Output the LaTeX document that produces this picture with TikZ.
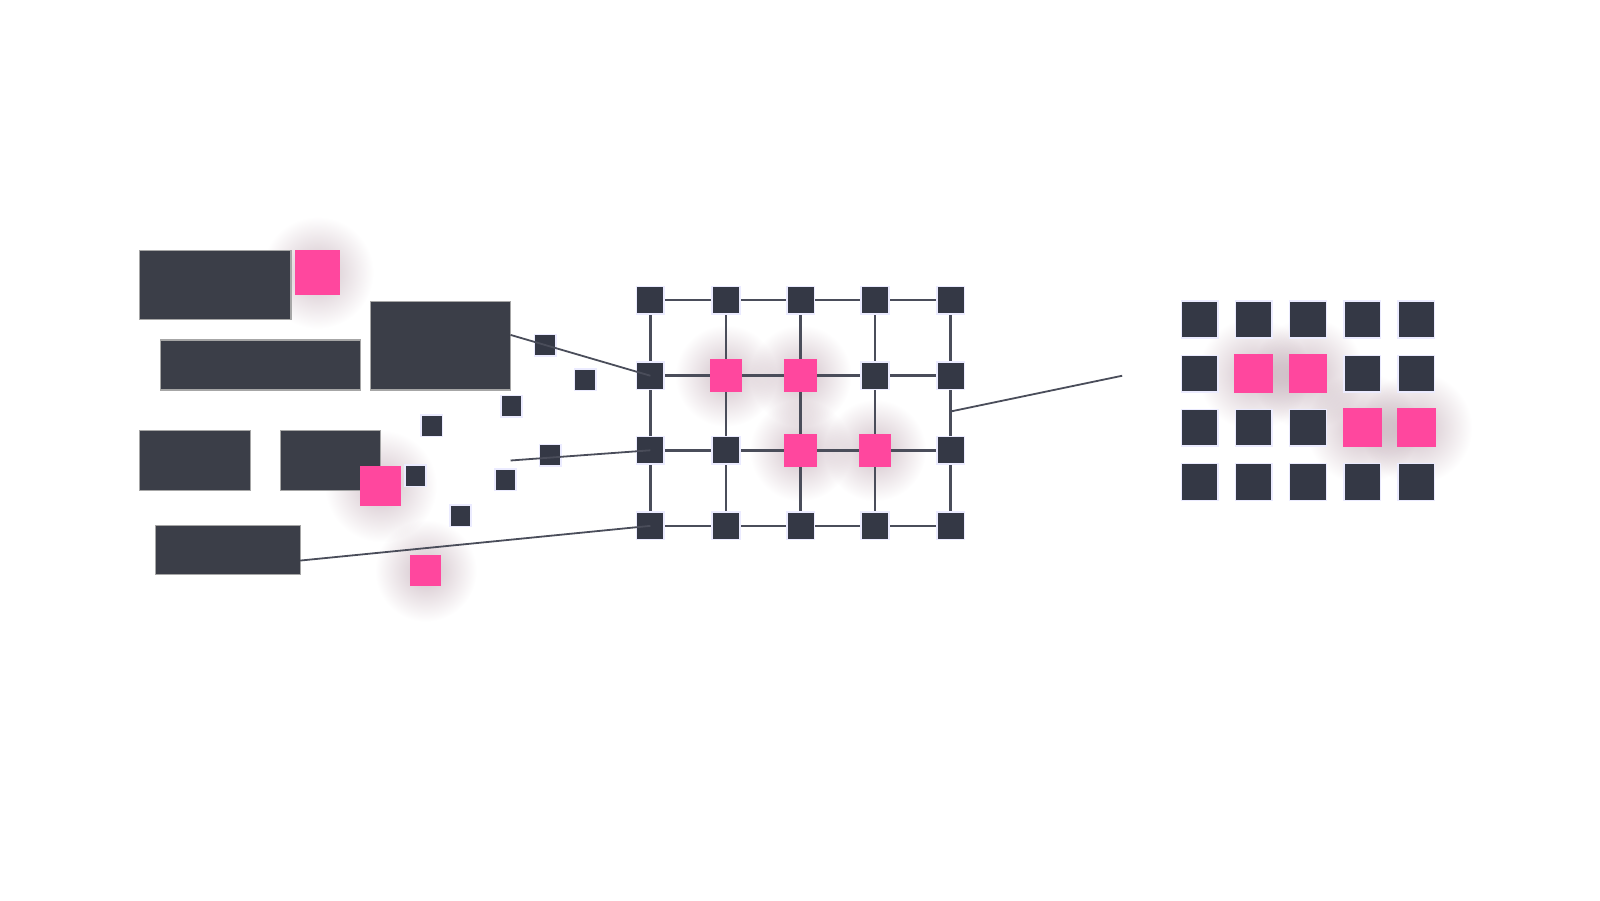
\documentclass[tikz,border=0pt]{standalone}
\usetikzlibrary{positioning}
\definecolor{dk}{HTML}{3B3E48}
\definecolor{nd}{HTML}{343845}
\definecolor{pk}{HTML}{FF479E}
\definecolor{ln}{HTML}{4A4D5A}
\tikzset{
 blk/.style={fill=dk,draw=gray!70,line width=0.6pt},
 sq/.style={fill=nd,draw=blue!8,line width=0.8pt,minimum size=#1*0.5105pt,inner sep=0pt},
 pq/.style={fill=pk,draw=none,minimum size=#1*0.5105pt,inner sep=0pt},
 conn/.style={draw=ln,line width=0.9pt},
 gridl/.style={draw=ln,line width=1.3pt},
 glow/.style={inner color=pk!20!gray!45,outer color=white,draw=none}
}
\begin{document}
\begin{tikzpicture}[x=0.5105pt,y=-0.5105pt]
\useasboundingbox (0,0) rectangle (1567,881.5);
% glows
\begin{scope}[blend mode=multiply]
\foreach \x/\y/\r in {311/267/55,373/476/55,417/559/50,711/368/50,784/368/50,784/441/50,857/441/50,1228/366/55,1281/366/55,1334/419/55,1387/419/55}
  \shade[glow] (\x,\y) circle (\r);
\end{scope}
% left blocks
\draw[blk] (137,245) rectangle (285,313);
\draw[blk] (157,333) rectangle (353,382);
\draw[blk] (363,295) rectangle (500,382);
\draw[blk] (137,422) rectangle (245,480);
\draw[blk] (275,422) rectangle (373,480);
\draw[blk] (152,515) rectangle (294,563);
\node[pq=44] (p1) at (311,267) {};
\node[pq=40] (p2) at (373,476) {};
\node[pq=30] (p3) at (417,559) {};
\foreach \x/\y [count=\i] in {534/338,573/372,501/398,423/417,539/446,407/466,495/470,451/505}
  \node[sq=21] (s\i) at (\x,\y) {};
% grid
\foreach \c/\x in {1/637,2/711,3/784,4/857,5/931}
  \foreach \r/\y in {1/294,2/368,3/441,4/515}
    \coordinate (g\c\r) at (\x,\y);
\foreach \r in {1,2,3,4} \draw[gridl] (g1\r) -- (g5\r);
\foreach \c in {1,...,5} \draw[gridl] (g\c1) -- (g\c4);
\foreach \c in {1,...,5} \foreach \r in {1,...,4} \node[sq=27] (n\c\r) at (g\c\r) {};
\foreach \c/\r in {2/2,3/2,3/3,4/3} \node[pq=32] at (g\c\r) {};
% connectors
\coordinate (a1) at (500,328);
\coordinate (a2) at (500,451);
\coordinate (a3) at (294,549);
\coordinate (b1) at (931,403);
\coordinate (b2) at (1099,368);
\draw[conn] (a1) -- (n12.center);
\draw[conn] (a2) -- (n13.center);
\draw[conn] (a3) -- (n14.center);
\draw[conn] (b1) -- (b2);
% right grid
\foreach \c/\x in {1/1175,2/1228,3/1281,4/1334,5/1387}
  \foreach \r/\y in {1/313,2/366,3/419,4/472}
    \node[sq=36] (r\c\r) at (\x,\y) {};
\foreach \c/\r in {2/2,3/2,4/3,5/3} \node[pq=38] at (r\c\r) {};
\end{tikzpicture}
\end{document}
